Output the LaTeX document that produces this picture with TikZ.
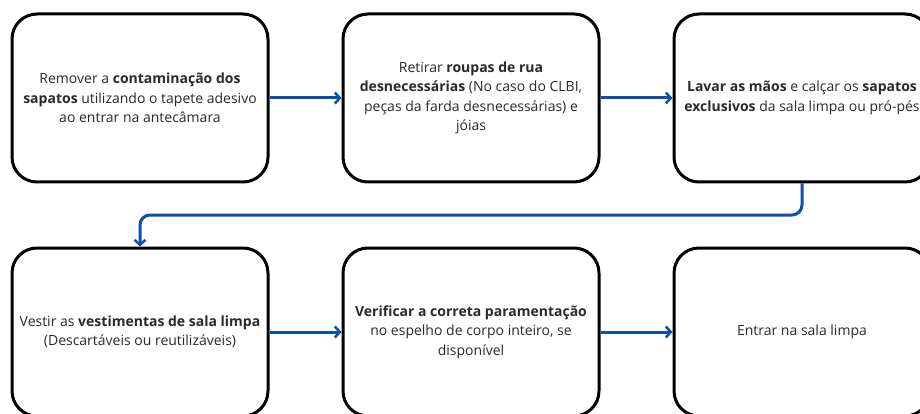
\documentclass[tikz,border=0pt]{standalone}
\usepackage{fontspec}
\setmainfont{Open Sans}
\usetikzlibrary{arrows.meta}
\definecolor{flowblue}{HTML}{0C4FAE}
\definecolor{txt}{HTML}{2A2A2A}
\begin{document}
\begin{tikzpicture}[x=1pt,y=-1pt,
  stepbox/.style={draw=black,line width=3pt,rounded corners=25pt,minimum width=256pt,minimum height=168pt,inner sep=0pt,align=center,text=txt,font=\fontsize{14}{19.5}\selectfont},
  flow/.style={draw=flowblue,line width=3pt,rounded corners=10pt,-{Straight Barb[length=5pt,width=11pt,line width=2.5pt]}}]
\useasboundingbox (0,0) rectangle (920,414);
\clip (0,0) rectangle (920,414);
\fill[white] (0,0) rectangle (920,414);
\node[stepbox] (b1) at (140,98) {Remover a \textbf{contaminação dos}\\\textbf{sapatos} utilizando o tapete adesivo\\ao entrar na antecâmara};
\node[stepbox] (b2) at (471,98) {Retirar \textbf{roupas de rua}\\\textbf{desnecessárias} (No caso do CLBI,\\peças da farda desnecessárias) e\\jóias};
\node[stepbox] (b3) at (802,98) {\textbf{Lavar as mãos} e calçar os \textbf{sapatos}\\\textbf{exclusivos} da sala limpa ou pró-pés};
\node[stepbox] (b4) at (140,332) {Vestir as \textbf{vestimentas de sala limpa}\\(Descartáveis ou reutilizáveis)};
\node[stepbox] (b5) at (471,332) {\textbf{Verificar a correta paramentação}\\no espelho de corpo inteiro, se\\disponível};
\node[stepbox] (b6) at (802,332) {Entrar na sala limpa};
\coordinate (turn) at (0,215);
\draw[flow] (b1.east) -- (b2.west);
\draw[flow] (b2.east) -- (b3.west);
\draw[flow] (b3.south) |- (turn -| b4.north) -- (b4.north);
\draw[flow] (b4.east) -- (b5.west);
\draw[flow] (b5.east) -- (b6.west);
\end{tikzpicture}
\end{document}
